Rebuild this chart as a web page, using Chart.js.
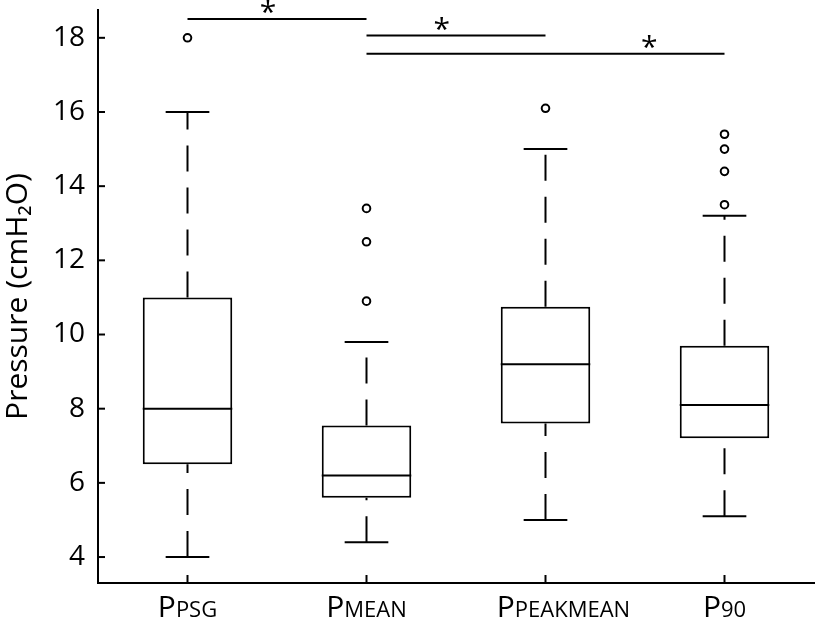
<!DOCTYPE html>
<html>
<head>
<meta charset="utf-8">
<script src="https://cdn.jsdelivr.net/npm/chart.js@4.4.1/dist/chart.umd.min.js"></script>
<style>
  html, body { margin: 0; padding: 0; background: #fff; }
</style>
</head>
<body>
<canvas id="chart" width="820" height="623"></canvas>
<script>
  // box plot data
  var groups = ['PPSG', 'PMEAN', 'PPEAKMEAN', 'P90'];
  var labelMain = ['P', 'P', 'P', 'P'];
  var labelSub = ['PSG', 'MEAN', 'PEAKMEAN', '90'];
  var whiskerLow = [4.0, 4.4, 5.0, 5.1];
  var q1 = [6.5, 5.6, 7.6, 7.2];
  var medians = [8.0, 6.2, 9.2, 8.1];
  var q3 = [11.0, 7.55, 10.75, 9.7];
  var whiskerHigh = [16.0, 9.8, 15.0, 13.2];
  var outliers = [[18.0], [10.9, 12.5, 13.4], [16.1], [13.5, 14.4, 15.0, 15.4]];
  var yTicks = [4, 6, 8, 10, 12, 14, 16, 18];

  // significance brackets
  var sigFrom = [0, 1, 1];
  var sigTo = [1, 2, 3];
  var sigLevel = [18.51, 18.06, 17.57];
  var starPos = [0.45, 1.42, 2.58];
  var starLevel = [18.82, 18.37, 17.88];

  var FONT = '"Open Sans", "DejaVu Sans", sans-serif';

  function seg(ctx, x1, y1, x2, y2) {
    ctx.beginPath();
    ctx.moveTo(x1, y1);
    ctx.lineTo(x2, y2);
    ctx.stroke();
  }

  var boxParts = {
    id: 'boxParts',
    afterDatasetsDraw: function (chart) {
      var ctx = chart.ctx, xs = chart.scales.x, ys = chart.scales.y;
      var step = xs.getPixelForValue(1) - xs.getPixelForValue(0);
      var bars = chart.getDatasetMeta(0).data;
      ctx.save();
      ctx.strokeStyle = '#000';
      ctx.lineWidth = 2;
      groups.forEach(function (g, i) {
        var cx = xs.getPixelForValue(i);
        var half = bars[i].width / 2;
        var capHalf = step * 0.122;
        // median
        seg(ctx, cx - half, ys.getPixelForValue(medians[i]), cx + half, ys.getPixelForValue(medians[i]));
        // dashed whiskers, drawn bottom to top
        ctx.setLineDash([26, 16]);
        seg(ctx, cx, ys.getPixelForValue(whiskerLow[i]), cx, ys.getPixelForValue(q1[i]));
        seg(ctx, cx, ys.getPixelForValue(q3[i]), cx, ys.getPixelForValue(whiskerHigh[i]));
        ctx.setLineDash([]);
        // caps
        seg(ctx, cx - capHalf, ys.getPixelForValue(whiskerLow[i]), cx + capHalf, ys.getPixelForValue(whiskerLow[i]));
        seg(ctx, cx - capHalf, ys.getPixelForValue(whiskerHigh[i]), cx + capHalf, ys.getPixelForValue(whiskerHigh[i]));
      });

      // significance lines + stars
      ctx.fillStyle = '#000';
      ctx.font = '30px ' + FONT;
      ctx.textAlign = 'center';
      ctx.textBaseline = 'alphabetic';
      var m = ctx.measureText('*');
      var shift = (m.actualBoundingBoxAscent - m.actualBoundingBoxDescent) / 2;
      sigLevel.forEach(function (v, k) {
        var yy = ys.getPixelForValue(v);
        seg(ctx, xs.getPixelForValue(sigFrom[k]), yy, xs.getPixelForValue(sigTo[k]), yy);
        ctx.fillText('*', xs.getPixelForValue(starPos[k]), ys.getPixelForValue(starLevel[k]) + shift);
      });
      ctx.restore();
    },
    afterDraw: function (chart) {
      var ctx = chart.ctx, xs = chart.scales.x, ys = chart.scales.y;
      var area = chart.chartArea;
      ctx.save();
      ctx.strokeStyle = '#000';
      ctx.lineWidth = 2;
      // inward tick marks
      yTicks.forEach(function (v) {
        var yy = ys.getPixelForValue(v);
        seg(ctx, area.left, yy, area.left + 7, yy);
      });
      groups.forEach(function (g, i) {
        var xx = xs.getPixelForValue(i);
        seg(ctx, xx, area.bottom, xx, area.bottom - 8);
      });
      // category labels: big P + smaller capitals
      // (the long third label sits a bit right of its tick in the original)
      var nudge = [0, 0, 18, 0];
      ctx.fillStyle = '#000';
      ctx.textAlign = 'left';
      ctx.textBaseline = 'alphabetic';
      groups.forEach(function (g, i) {
        var big = '30px ' + FONT, small = '22px ' + FONT;
        ctx.font = big;
        var w1 = ctx.measureText(labelMain[i]).width;
        ctx.font = small;
        var w2 = ctx.measureText(labelSub[i]).width;
        var x0 = xs.getPixelForValue(i) - (w1 + w2) / 2 + nudge[i];
        ctx.font = big;
        ctx.fillText(labelMain[i], x0, 617);
        ctx.font = small;
        ctx.fillText(labelSub[i], x0 + w1, 617);
      });
      ctx.restore();
    }
  };

  var outlierPoints = [];
  outliers.forEach(function (list, i) {
    list.forEach(function (v) { outlierPoints.push({ x: groups[i], y: v }); });
  });

  new Chart(document.getElementById('chart'), {
    type: 'bar',
    data: {
      labels: groups,
      datasets: [{
        data: q1.map(function (v, i) { return [v, q3[i]]; }),
        backgroundColor: '#fff',
        borderColor: '#000',
        borderWidth: 2,
        borderSkipped: false,
        categoryPercentage: 1,
        barPercentage: 0.5,
      }, {
        type: 'scatter',
        data: outlierPoints,
        pointStyle: 'circle',
        pointRadius: 3.8,
        pointBorderWidth: 2,
        pointBorderColor: '#000',
        pointBackgroundColor: '#fff',
      }],
    },
    options: {
      responsive: false,
      animation: false,
      devicePixelRatio: 1,
      layout: { padding: { top: 10, right: 0, left: 0, bottom: 0 } },
      plugins: {
        legend: { display: false },
        tooltip: { enabled: false },
      },
      scales: {
        x: {
          type: 'category',
          offset: true,
          grid: { display: false, drawTicks: false },
          border: { display: true, color: '#000', width: 2 },
          ticks: { display: false },
          afterFit: function (s) {
            s.height = 40;
            s.paddingLeft = 0;
            s.paddingRight = 0;
          },
        },
        y: {
          min: 3.3,
          max: 18.75,
          grid: { display: false, drawTicks: false },
          border: { display: true, color: '#000', width: 2 },
          afterBuildTicks: function (s) {
            s.ticks = yTicks.map(function (v) { return { value: v }; });
          },
          ticks: {
            color: '#000',
            padding: 13,
            font: { size: 28, family: FONT },
          },
          title: {
            display: true,
            text: 'Pressure (cmH₂O)',
            color: '#000',
            padding: 0,
            font: { size: 30, family: FONT },
          },
          afterFit: function (s) {
            s.width = 98;
            s.paddingTop = 0;
            s.paddingBottom = 0;
          },
        },
      },
    },
    plugins: [boxParts],
  });
</script>
</body>
</html>
